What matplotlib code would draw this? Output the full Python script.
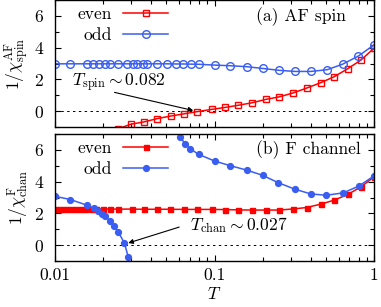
import matplotlib
matplotlib.use("Agg")
import matplotlib.pyplot as plt
from matplotlib.ticker import MultipleLocator, FixedLocator, FixedFormatter, LogLocator, NullFormatter

plt.rcParams['font.family'] = 'serif'
plt.rcParams['font.serif'] = ['cmr10']
plt.rcParams['mathtext.fontset'] = 'cm'
plt.rcParams['axes.formatter.use_mathtext'] = True
plt.rcParams['font.size'] = 12.6

RED = '#ff0000'
BLUE = '#3a5ef2'

# (a) AF spin
T_a_odd = [0.010, 0.0125, 0.0158, 0.0174, 0.0190, 0.0206, 0.0221, 0.0249, 0.0284, 0.0307,
           0.0328, 0.0354, 0.0379, 0.0434, 0.0501, 0.0574, 0.0637, 0.0709, 0.080, 0.100,
           0.125, 0.159, 0.200, 0.254, 0.320, 0.401, 0.509, 0.637, 0.798, 1.0]
a_odd = [2.98, 2.98, 2.98, 2.98, 2.98, 2.98, 2.98, 2.98, 2.98, 2.98,
         2.98, 2.98, 2.98, 2.98, 2.98, 2.97, 2.97, 2.96, 2.95, 2.90,
         2.86, 2.80, 2.69, 2.57, 2.50, 2.50, 2.61, 2.96, 3.47, 4.17]

T_a_even = [0.0250, 0.0300, 0.0361, 0.0438, 0.0531, 0.0644, 0.0780, 0.0960, 0.116, 0.141,
            0.171, 0.210, 0.255, 0.312, 0.378, 0.463, 0.561, 0.684, 0.829, 1.0]
a_even = [-1.10, -0.82, -0.68, -0.47, -0.31, -0.17, -0.03, 0.11, 0.23, 0.37,
          0.52, 0.74, 0.90, 1.15, 1.45, 1.79, 2.16, 2.67, 3.22, 3.96]

# (b) F channel
T_b_even = [0.0100, 0.0107, 0.0115, 0.0124, 0.0133, 0.0143, 0.0155, 0.0167, 0.0182, 0.0201,
            0.0221, 0.0249, 0.0303, 0.0360, 0.0436, 0.0529, 0.0645, 0.0773, 0.096, 0.116,
            0.141, 0.171, 0.210, 0.255, 0.312, 0.378, 0.463, 0.561, 0.684, 0.829, 1.0]
b_even = [2.28, 2.28, 2.28, 2.28, 2.28, 2.28, 2.28, 2.28, 2.27, 2.27,
          2.27, 2.27, 2.27, 2.26, 2.26, 2.26, 2.25, 2.25, 2.25, 2.24,
          2.22, 2.21, 2.21, 2.21, 2.28, 2.37, 2.58, 2.83, 3.19, 3.67, 4.30]

T_b_odd_lo = [0.0100, 0.0125, 0.0158, 0.0176, 0.0185, 0.0196, 0.0207, 0.0221, 0.0235, 0.0249,
              0.0272, 0.0288]
b_odd_lo = [3.08, 2.87, 2.52, 2.31, 2.16, 1.99, 1.82, 1.53, 1.19, 0.84, 0.14, -0.74]

T_b_odd_hi = [0.0560, 0.0607, 0.0654, 0.0703, 0.0794, 0.100, 0.125, 0.160, 0.200, 0.250,
              0.320, 0.400, 0.500, 0.640, 0.800, 1.0]
b_odd_hi = [7.6, 6.81, 6.40, 6.08, 5.72, 5.30, 5.01, 4.72, 4.40, 3.94,
            3.52, 3.23, 3.14, 3.29, 3.71, 4.36]

fig = plt.figure(figsize=(3.81, 3.07), dpi=100)
ax1 = fig.add_axes([0.1444, 0.5863, 0.8372, 0.4137])
ax2 = fig.add_axes([0.1444, 0.1498, 0.8372, 0.4137])

for ax in (ax1, ax2):
    ax.set_xscale('log')
    ax.set_xlim(0.01, 1)
    ax.set_ylim(-1, 7)
    ax.axhline(0, color='black', lw=0.7, dashes=(2.5, 3.5))
    ax.yaxis.set_major_locator(MultipleLocator(2))
    ax.yaxis.set_minor_locator(MultipleLocator(1))
    ax.xaxis.set_major_locator(FixedLocator([0.01, 0.1, 1]))
    ax.xaxis.set_minor_locator(LogLocator(base=10, subs=range(2, 10)))
    ax.xaxis.set_minor_formatter(NullFormatter())
    ax.tick_params(which='both', direction='in', top=True, right=True, width=0.8)
    ax.tick_params(which='major', length=4, pad=8)
    ax.tick_params(which='minor', length=3)
    ax.tick_params(axis='x', which='major', pad=5)
    for s in ax.spines.values():
        s.set_linewidth(1.0)

ax1.plot(T_a_even, a_even, color=RED, lw=1.1, marker='s', ms=5, mfc='none', mew=1.0, label='even')
ax1.plot(T_a_odd, a_odd, color=BLUE, lw=1.1, marker='o', ms=5.5, mfc='none', mew=1.0, label='odd')
ax1.set_xticklabels([])
ax1.set_ylabel(r'$1/\chi^{\rm AF}_{\rm spin}$', labelpad=2)
ax1.text(0.63, 0.87, '(a) AF spin', transform=ax1.transAxes, ha='left', va='center')
ax1.text(0.0128, 1.79, r'$T_{\rm spin}\sim 0.082$', ha='left', va='center')
ax1.annotate('', xy=(0.0765, 0.0), xytext=(0.0227, 1.22),
             arrowprops=dict(arrowstyle='-|>', color='black', lw=0.8, mutation_scale=7))
ax1.legend(loc='upper left', bbox_to_anchor=(0.05, 1.0), frameon=False, markerfirst=False,
           handlelength=2.6, handletextpad=0.6, labelspacing=0.3, borderaxespad=0)

ax2.plot(T_b_even, b_even, color=RED, lw=1.1, marker='s', ms=3.6, label='even')
ax2.plot(T_b_odd_lo, b_odd_lo, color=BLUE, lw=1.1, marker='o', ms=4.2, label='odd')
ax2.plot(T_b_odd_hi, b_odd_hi, color=BLUE, lw=1.1, marker='o', ms=4.2)
ax2.xaxis.set_major_formatter(FixedFormatter(['0.01', '0.1', '1']))
ax2.set_ylabel(r'$1/\chi^{\rm F}_{\rm chan}$', labelpad=2)
ax2.set_xlabel(r'$T$', labelpad=2)
ax2.text(0.63, 0.88, '(b) F channel', transform=ax2.transAxes, ha='left', va='center')
ax2.text(0.0703, 1.26, r'$T_{\rm chan}\sim 0.027$', ha='left', va='center')
ax2.annotate('', xy=(0.0277, 0.08), xytext=(0.0624, 1.19),
             arrowprops=dict(arrowstyle='-|>', color='black', lw=0.8, mutation_scale=7))
ax2.legend(loc='upper left', bbox_to_anchor=(0.05, 1.0), frameon=False, markerfirst=False,
           handlelength=2.6, handletextpad=0.6, labelspacing=0.3, borderaxespad=0)

fig.savefig('out.png', dpi=100)
